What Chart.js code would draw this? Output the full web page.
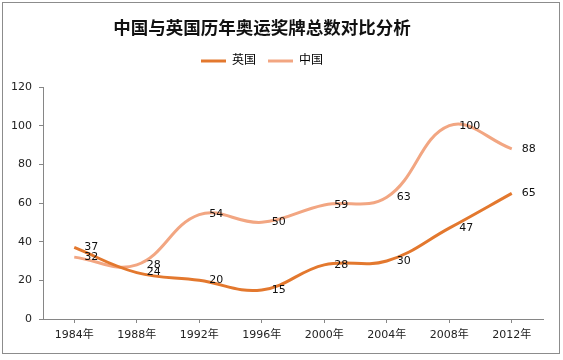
<!DOCTYPE html>
<html>
<head>
<meta charset="utf-8">
<script src="https://cdn.jsdelivr.net/npm/chart.js@4/dist/chart.umd.min.js"></script>
<style>
  body { margin: 0; background: #fff; }
  #wrap { position: relative; width: 563px; height: 360px; }
  #frame { position: absolute; left: 2px; top: 2px; width: 556px; height: 350px; border: 1px solid #8c8c8c; }
  #chart { position: absolute; left: 0; top: 0; }
</style>
</head>
<body>
<div id="wrap">
  <div id="frame"></div>
  <canvas id="chart" width="563" height="360"></canvas>
</div>
<script>
const years = ['1984年', '1988年', '1992年', '1996年', '2000年', '2004年', '2008年', '2012年'];
const britain = [37, 24, 20, 15, 28, 30, 47, 65];
const china = [32, 28, 54, 50, 59, 63, 100, 88];

const fontFamily = "'DejaVu Sans', 'Noto Sans CJK SC', sans-serif";

// value labels to the right of each point
const valueLabels = {
    id: 'valueLabels',
    afterDatasetsDraw(chart) {
        const ctx = chart.ctx;
        ctx.save();
        ctx.font = '11px ' + fontFamily;
        ctx.fillStyle = '#111';
        ctx.textAlign = 'left';
        ctx.textBaseline = 'middle';
        chart.data.datasets.forEach((ds, i) => {
            chart.getDatasetMeta(i).data.forEach((pt, j) => {
                ctx.fillText(ds.data[j], pt.x + 10, pt.y);
            });
        });
        ctx.restore();
    }
};

// extra room under the legend
const legendGap = {
    id: 'legendGap',
    beforeInit(chart) {
        const fit = chart.legend.fit;
        chart.legend.fit = function () {
            fit.call(this);
            this.height += 10;
        };
    }
};

new Chart(document.getElementById('chart').getContext('2d'), {
    type: 'line',
    data: {
        labels: years,
        datasets: [{
            label: '英国',
            data: britain,
            borderColor: '#E3782E',
            backgroundColor: '#E3782E',
            borderWidth: 3,
            pointRadius: 0,
            tension: 0.4
        }, {
            label: '中国',
            data: china,
            borderColor: '#F2A682',
            backgroundColor: '#F2A682',
            borderWidth: 3,
            pointRadius: 0,
            tension: 0.4
        }]
    },
    options: {
        responsive: false,
        animation: false,
        layout: { padding: { left: -19, right: 20, top: 0, bottom: 0 } },
        plugins: {
            title: {
                display: true,
                text: '中国与英国历年奥运奖牌总数对比分析',
                color: '#111',
                font: { family: fontFamily, size: 17.5, weight: 'bold' },
                padding: { top: 19, bottom: 3 }
            },
            legend: {
                labels: {
                    color: '#111',
                    font: { family: fontFamily, size: 12 },
                    boxWidth: 25,
                    boxHeight: 3,
                    padding: 12,
                    generateLabels(chart) {
                        return chart.data.datasets.map((ds, i) => ({
                            text: ds.label,
                            fillStyle: ds.borderColor,
                            strokeStyle: ds.borderColor,
                            lineWidth: 0,
                            datasetIndex: i
                        }));
                    }
                }
            },
            tooltip: { enabled: false }
        },
        scales: {
            x: {
                offset: true,
                afterFit(scale) { scale.height = 41; },
                grid: { drawOnChartArea: false, drawTicks: true, tickLength: 4, color: '#868686' },
                border: { display: true, color: '#868686' },
                ticks: { color: '#222', font: { family: fontFamily, size: 11 }, padding: 6, maxRotation: 0 }
            },
            y: {
                min: 0,
                max: 120,
                afterFit(scale) { scale.width = 62; },
                grid: { drawOnChartArea: false, drawTicks: true, tickLength: 4, color: '#868686' },
                border: { display: true, color: '#868686' },
                ticks: { stepSize: 20, color: '#222', font: { family: fontFamily, size: 11 }, padding: 7 }
            }
        }
    },
    plugins: [valueLabels, legendGap]
});
</script>
</body>
</html>
